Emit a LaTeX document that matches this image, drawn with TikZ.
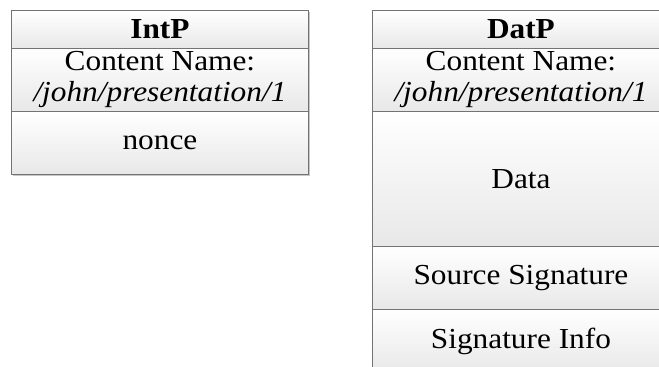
\documentclass[tikz,border=0pt]{standalone}
\usepackage{fontspec}
\setmainfont{LiberationSerif}[Extension=.ttf, UprightFont=*-Regular, BoldFont=*-Bold, ItalicFont=*-Italic, BoldItalicFont=*-BoldItalic, FakeStretch=1.08]
\begin{document}
\begin{tikzpicture}[x=1pt,y=-1pt,
  sect/.style={draw=black!55, line width=0.9pt, top color=white, bottom color=black!9,
    minimum width=297pt, inner sep=0pt, anchor=north west, align=center,
    font=\fontsize{29}{31}\selectfont}]
\clip (0,0) rectangle (659,367);
\fill[white] (0,0) rectangle (659,367);
% IntP
\fill[black!22] (13,12) rectangle (310,176);
\node[sect, minimum height=38pt] (ih) at (11,10) {\textbf{IntP}};
\node[sect, minimum height=63pt] (in) at (11,48) {Content Name:\\\textit{/john/presentation/1}};
\node[sect, minimum height=63pt] (ino) at (11,111) {nonce};
% DatP
\node[sect, minimum height=38pt] (dh) at (372,10) {\textbf{DatP}};
\node[sect, minimum height=63pt] (dn) at (372,48) {Content Name:\\\textit{/john/presentation/1}};
\node[sect, minimum height=135pt] (dd) at (372,111) {Data};
\node[sect, minimum height=63pt] (ds) at (372,246) {Source Signature};
\node[sect, minimum height=63pt] (di) at (372,309) {Signature Info};
\end{tikzpicture}
\end{document}
